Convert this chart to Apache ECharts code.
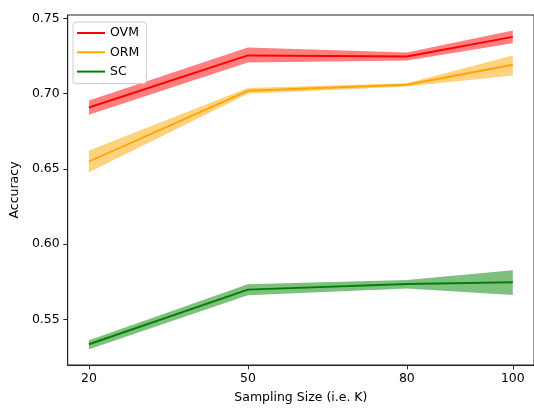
<!DOCTYPE html>
<html>
<head>
<meta charset="utf-8">
<script src="https://cdn.jsdelivr.net/npm/echarts@6/dist/echarts.min.js"></script>
<style>html,body{margin:0;padding:0;background:#fff;}#c{width:534px;height:410px;}</style>
</head>
<body>
<div id="c"></div>
<script>
const xs = [20, 50, 80, 100];
const xTicks = [20, 50, 80, 100];
const yTicks = [0.55, 0.60, 0.65, 0.70, 0.75];
const ovmMean = [0.6908, 0.7254, 0.7247, 0.7378];
const ovmLow  = [0.6860, 0.7207, 0.7221, 0.7336];
const ovmHigh = [0.6955, 0.7307, 0.7274, 0.7420];
const ormMean = [0.6549, 0.7019, 0.7059, 0.7192];
const ormLow  = [0.6478, 0.6999, 0.7048, 0.7121];
const ormHigh = [0.6622, 0.7037, 0.7070, 0.7254];
const scMean  = [0.5334, 0.5697, 0.5735, 0.5746];
const scLow   = [0.5300, 0.5660, 0.5704, 0.5662];
const scHigh  = [0.5361, 0.5733, 0.5761, 0.5826];

const methods = [
  {name: 'OVM', color: '#ff0000', mean: ovmMean, low: ovmLow, high: ovmHigh},
  {name: 'ORM', color: '#ffa500', mean: ormMean, low: ormLow, high: ormHigh},
  {name: 'SC',  color: '#008000', mean: scMean,  low: scLow,  high: scHigh}
];
const FONT = 'DejaVu Sans';
const series = [];
methods.forEach(m => {
  const data = xs.map((x, i) => [x, m.low[i], m.high[i]]);
  series.push({
    name: m.name + '_band', type: 'custom', silent: true, z: 1,
    encode: {x: 0, y: [1, 2]},
    data: data,
    renderItem: function (params, api) {
      if (params.dataIndex !== 0) return null;
      const upper = data.map(d => api.coord([d[0], d[2]]));
      const lower = data.map(d => api.coord([d[0], d[1]])).reverse();
      return {
        type: 'polygon',
        shape: {points: upper.concat(lower)},
        style: {fill: m.color, opacity: 0.5}
      };
    }
  });
});
methods.forEach(m => {
  series.push({
    name: m.name, type: 'line', data: xs.map((x, i) => [x, m.mean[i]]),
    symbol: 'none', color: m.color, itemStyle: {color: m.color},
    lineStyle: {color: m.color, width: 1.9}, z: 3
  });
});

const chart = echarts.init(document.getElementById('c'), null, {renderer: 'canvas'});
chart.setOption({
  animation: false,
  backgroundColor: '#fff',
  grid: {left: 66, top: 15, width: 470, height: 350, show: true, borderColor: '#222', borderWidth: 1, backgroundColor: 'transparent'},
  legend: {
    data: ['OVM', 'ORM', 'SC'], orient: 'vertical', left: 73, top: 22,
    icon: 'rect', itemWidth: 28, itemHeight: 2, itemGap: 5.3, itemTextGap: 13,
    padding: [4, 7, 5, 4], borderColor: '#cccccc', borderWidth: 1, borderRadius: 3,
    backgroundColor: 'rgba(255,255,255,0.8)',
    textStyle: {fontFamily: FONT, fontSize: 12.5, color: '#000', lineHeight: 14}
  },
  xAxis: {
    type: 'value', min: 16, max: 104,
    name: 'Sampling Size (i.e. K)', nameLocation: 'middle', nameGap: 26,
    nameTextStyle: {fontFamily: FONT, fontSize: 12.5, color: '#000'},
    axisLine: {show: true, lineStyle: {color: '#222', width: 1}},
    axisTick: {show: true, length: 4.4, lineStyle: {color: '#222'}, customValues: xTicks},
    axisLabel: {fontFamily: FONT, fontSize: 12.5, color: '#000', margin: 7, customValues: xTicks},
    splitLine: {show: false}
  },
  yAxis: {
    type: 'value', min: 0.5196, max: 0.7523,
    name: 'Accuracy', nameLocation: 'middle', nameGap: 42, nameRotate: 90,
    nameTextStyle: {fontFamily: FONT, fontSize: 12.5, color: '#000'},
    axisLine: {show: true, lineStyle: {color: '#222', width: 1}},
    axisTick: {show: true, length: 4.4, lineStyle: {color: '#222'}, customValues: yTicks},
    axisLabel: {fontFamily: FONT, fontSize: 12.5, color: '#000', margin: 8, customValues: yTicks,
      formatter: v => v.toFixed(2)},
    splitLine: {show: false}
  },
  series: series
});
</script>
</body>
</html>
